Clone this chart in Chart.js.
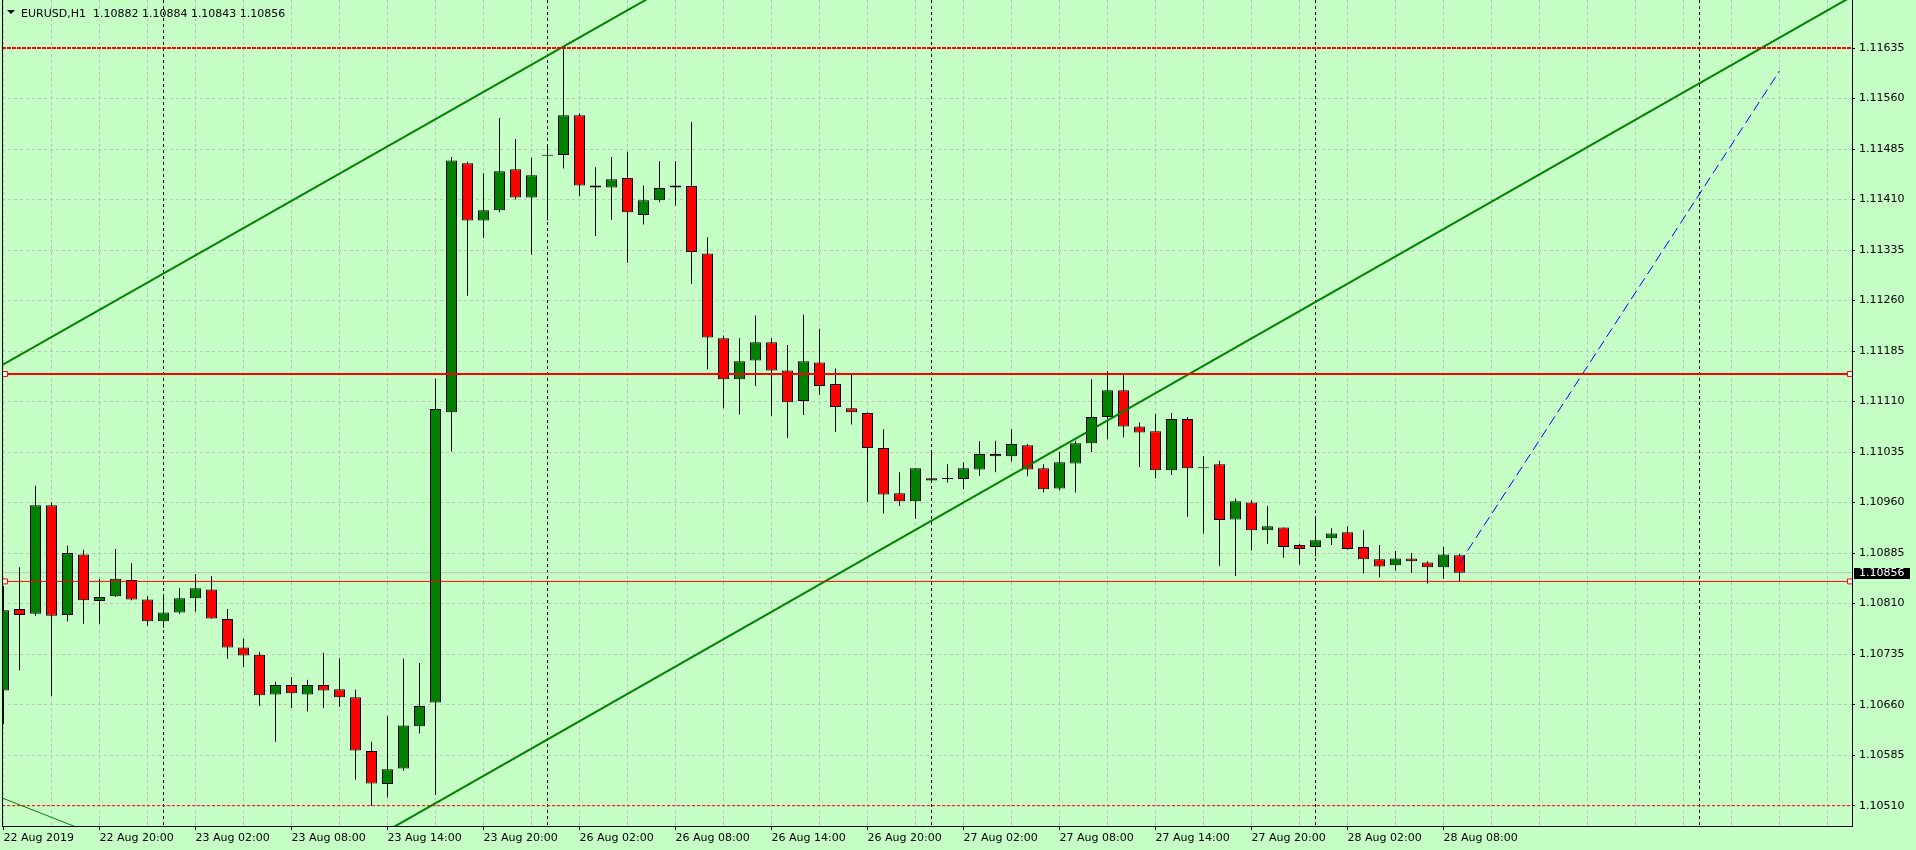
<!DOCTYPE html>
<html lang="en">
<head>
<meta charset="utf-8">
<title>EURUSD,H1</title>
<script src="https://cdn.jsdelivr.net/npm/chart.js@4.4.1/dist/chart.umd.min.js"></script>
<style>
  html, body { margin: 0; padding: 0; background: #c6ffc6; overflow: hidden; }
  .wrap { position: relative; width: 1916px; height: 850px; }
  .head { position: absolute; left: 21px; top: 7px; font: 11px/13px "DejaVu Sans", sans-serif; color: #000; white-space: pre; }
  .head::before { content: ""; position: absolute; left: -14px; top: 3px; border-left: 4px solid transparent; border-right: 4px solid transparent; border-top: 4px solid #000; }
</style>
</head>
<body>
<div class="wrap">
  <canvas id="chart" width="1916" height="850"></canvas>
  <div class="head">EURUSD,H1  1.10882 1.10884 1.10843 1.10856</div>
</div>
<script>
// H1 bars, 22 Aug 2019 14:00 .. 28 Aug 2019 09:00 (bar index = position on the time axis)
const openP = [
  1.10681, 1.10802, 1.10795, 1.10956, 1.10793, 1.10883, 1.10814, 1.10821, 1.10845, 1.10816,
  1.10784, 1.10797, 1.10818, 1.10831, 1.10787, 1.10745, 1.10734, 1.10675, 1.10689, 1.10675,
  1.10689, 1.10683, 1.10671, 1.10591, 1.10542, 1.10565, 1.10628, 1.10663, 1.11094, 1.11464,
  1.11379, 1.11394, 1.11455, 1.11413, 1.11475, 1.11476, 1.11535, 1.11431, 1.11428, 1.11442,
  1.11387, 1.11409, 1.11428, 1.11430, 1.11330, 1.11204, 1.11143, 1.11171, 1.11198, 1.11156,
  1.11111, 1.11168, 1.11136, 1.11100, 1.11093, 1.11041, 1.10974, 1.10962, 1.10996, 1.10995,
  1.10995, 1.11009, 1.11032, 1.11029, 1.11045, 1.11011, 1.10981, 1.11018, 1.11048, 1.11087,
  1.11127, 1.11073, 1.11066, 1.11008, 1.11084, 1.11011, 1.11017, 1.10935, 1.10960, 1.10919,
  1.10923, 1.10897, 1.10894, 1.10907, 1.10916, 1.10894, 1.10876, 1.10867, 1.10877, 1.10871,
  1.10864, 1.10882
];
const highP = [
  1.10836, 1.10864, 1.10985, 1.10960, 1.10896, 1.10890, 1.10847, 1.10891, 1.10870, 1.10821,
  1.10821, 1.10833, 1.10854, 1.10851, 1.10802, 1.10758, 1.10738, 1.10694, 1.10701, 1.10697,
  1.10737, 1.10729, 1.10682, 1.10605, 1.10643, 1.10728, 1.10722, 1.11144, 1.11473, 1.11466,
  1.11449, 1.11531, 1.11500, 1.11472, 1.11490, 1.11634, 1.11538, 1.11458, 1.11473, 1.11481,
  1.11431, 1.11467, 1.11467, 1.11525, 1.11354, 1.11208, 1.11204, 1.11238, 1.11204, 1.11194,
  1.11239, 1.11218, 1.11159, 1.11152, 1.11094, 1.11069, 1.11005, 1.11011, 1.11035, 1.11017,
  1.11020, 1.11051, 1.11052, 1.11069, 1.11047, 1.11017, 1.11035, 1.11052, 1.11143, 1.11155,
  1.11149, 1.11079, 1.11092, 1.11093, 1.11087, 1.11029, 1.11022, 1.10966, 1.10963, 1.10955,
  1.10923, 1.10899, 1.10937, 1.10922, 1.10925, 1.10919, 1.10897, 1.10888, 1.10885, 1.10873,
  1.10894, 1.10884
];
const lowP = [
  1.10631, 1.10711, 1.10792, 1.10673, 1.10784, 1.10780, 1.10780, 1.10820, 1.10815, 1.10777,
  1.10774, 1.10795, 1.10798, 1.10788, 1.10728, 1.10716, 1.10658, 1.10605, 1.10655, 1.10650,
  1.10655, 1.10657, 1.10549, 1.10510, 1.10522, 1.10562, 1.10617, 1.10526, 1.11036, 1.11267,
  1.11353, 1.11391, 1.11410, 1.11328, 1.11379, 1.11456, 1.11415, 1.11356, 1.11380, 1.11316,
  1.11373, 1.11406, 1.11401, 1.11285, 1.11158, 1.11100, 1.11091, 1.11133, 1.11089, 1.11056,
  1.11090, 1.11120, 1.11065, 1.11076, 1.10961, 1.10944, 1.10955, 1.10936, 1.10989, 1.10990,
  1.10980, 1.11000, 1.11005, 1.11021, 1.10999, 1.10975, 1.10978, 1.10975, 1.11035, 1.11054,
  1.11057, 1.11013, 1.10996, 1.11001, 1.10939, 1.10914, 1.10866, 1.10851, 1.10889, 1.10899,
  1.10878, 1.10868, 1.10880, 1.10897, 1.10890, 1.10855, 1.10849, 1.10859, 1.10856, 1.10840,
  1.10847, 1.10843
];
const closeP = [
  1.10800, 1.10793, 1.10956, 1.10792, 1.10885, 1.10815, 1.10820, 1.10847, 1.10816, 1.10784,
  1.10797, 1.10818, 1.10833, 1.10788, 1.10745, 1.10733, 1.10674, 1.10689, 1.10677, 1.10689,
  1.10681, 1.10671, 1.10592, 1.10543, 1.10564, 1.10629, 1.10658, 1.11099, 1.11468, 1.11379,
  1.11394, 1.11452, 1.11413, 1.11446, 1.11475, 1.11535, 1.11431, 1.11428, 1.11440, 1.11391,
  1.11409, 1.11427, 1.11431, 1.11332, 1.11205, 1.11143, 1.11170, 1.11198, 1.11156, 1.11109,
  1.11170, 1.11133, 1.11102, 1.11094, 1.11041, 1.10972, 1.10962, 1.11011, 1.10993, 1.10995,
  1.11011, 1.11032, 1.11029, 1.11047, 1.11009, 1.10980, 1.11020, 1.11048, 1.11087, 1.11127,
  1.11073, 1.11064, 1.11008, 1.11084, 1.11011, 1.11011, 1.10934, 1.10962, 1.10919, 1.10925,
  1.10894, 1.10891, 1.10904, 1.10914, 1.10891, 1.10876, 1.10865, 1.10877, 1.10873, 1.10864,
  1.10883, 1.10856
];

// time axis labels (bar index -> text)
const xLabelBars = [0, 6, 12, 18, 24, 30, 36, 42, 48, 54, 60, 66, 72, 78, 84, 90];
const xLabels = [
  '22 Aug 2019', '22 Aug 20:00', '23 Aug 02:00', '23 Aug 08:00', '23 Aug 14:00', '23 Aug 20:00',
  '26 Aug 02:00', '26 Aug 08:00', '26 Aug 14:00', '26 Aug 20:00', '27 Aug 02:00', '27 Aug 08:00',
  '27 Aug 14:00', '27 Aug 20:00', '28 Aug 02:00', '28 Aug 08:00'
];
// day separators (00:00 bars)
const separatorBars = [10, 34, 58, 82, 106];

// price axis
const yTicks = [1.10510, 1.10585, 1.10660, 1.10735, 1.10810, 1.10885, 1.10960, 1.11035,
                1.11110, 1.11185, 1.11260, 1.11335, 1.11410, 1.11485, 1.11560, 1.11635];

// chart objects
const bidPrice = 1.10856;
const levelTopDot = 1.11635;
const levelMid = 1.11151;
const levelLow = 1.10843;
const levelBottomDash = 1.10510;
const channelUpper = [[-1, 1.11152], [45, 1.11772]];
const channelLower = [[24, 1.10473], [116, 1.11718]];
const smallTrend = [[-1, 1.10530], [5, 1.10474]];
const projection = [[91, 1.10870], [111, 1.11601]];
const anchorBars = [0.1, 115.4];

const xMin = -0.09375, xMax = 115.53125;
const yMin = 1.104798, yMax = 1.117063;

const FONT = { family: 'DejaVu Sans', size: 11 };
const GRID = '#c0c0c0';

const bars = openP.map((o, i) => i);
const bodyColors = openP.map((o, i) => closeP[i] > o ? '#008000' : (closeP[i] < o ? '#ff0000' : '#000000'));

const gridBars = [];
for (let b = 0; b <= 114; b += 3) gridBars.push(b);
const xTickValues = gridBars.concat(separatorBars).sort((a, b) => a - b);

function seg(points, color, width, dash, order) {
  return {
    type: 'line',
    data: points.map(p => ({ x: p[0], y: p[1] })),
    borderColor: color,
    borderWidth: width,
    borderDash: dash || [],
    pointRadius: 0,
    fill: false,
    tension: 0,
    order: order
  };
}

function level(price, color, width, dash, order, anchors) {
  if (!anchors) return seg([[xMin, price], [xMax, price]], color, width, dash, order);
  const ds = seg([[xMin, price], [anchorBars[0], price], [anchorBars[1], price], [xMax, price]], color, width, dash, order);
  ds.pointRadius = [0, 3.5, 3.5, 0];
  ds.pointStyle = 'rect';
  ds.pointBackgroundColor = '#ffffff';
  ds.pointBorderColor = color;
  ds.pointBorderWidth = 1;
  return ds;
}

// left frame line + bid price tag on the price axis
const frame = {
  id: 'frame',
  afterDraw(chart) {
    const ctx = chart.ctx;
    const area = chart.chartArea;
    const y = chart.scales.y;
    ctx.save();
    ctx.strokeStyle = '#000';
    ctx.lineWidth = 1;
    ctx.beginPath();
    ctx.moveTo(area.left + 0.5, area.top);
    ctx.lineTo(area.left + 0.5, area.bottom + 1);
    ctx.stroke();

    const py = y.getPixelForValue(bidPrice);
    ctx.fillStyle = '#000';
    ctx.fillRect(y.left + 2, Math.round(py) - 5, 56, 11);
    ctx.fillStyle = '#fff';
    ctx.font = '11px "DejaVu Sans"';
    ctx.textBaseline = 'middle';
    ctx.fillText(bidPrice.toFixed(5), y.left + 7, py);
    ctx.restore();
  }
};

new Chart(document.getElementById('chart'), {
  type: 'bar',
  data: {
    datasets: [
      level(bidPrice, '#c0c0c0', 1, [], 9),
      {
        label: 'wick',
        data: bars.map(i => ({ x: i, y: [lowP[i], highP[i]] })),
        backgroundColor: '#000000',
        borderWidth: 0,
        barThickness: 1,
        grouped: false,
        inflateAmount: 0,
        order: 6
      },
      {
        label: 'body',
        data: bars.map(i => ({ x: i, y: [openP[i], closeP[i]] })),
        backgroundColor: bodyColors,
        borderColor: '#000000',
        borderWidth: 1,
        borderSkipped: false,
        barThickness: 11,
        minBarLength: 1,
        grouped: false,
        inflateAmount: 0,
        order: 5
      },
      level(levelTopDot, '#ff0000', 2, [4, 1], 1),
      level(levelMid, '#ff0000', 2, [], 1, true),
      level(levelLow, '#ff0000', 1, [], 1, true),
      level(levelBottomDash, '#ff0000', 1, [3, 2], 1),
      seg(channelUpper, '#008000', 2, [], 1),
      seg(channelLower, '#008000', 2, [], 1),
      seg(smallTrend, '#008000', 1, [], 1),
      seg(projection, '#0000ff', 1, [10, 5], 1)
    ]
  },
  options: {
    responsive: false,
    devicePixelRatio: 1,
    animation: false,
    events: [],
    layout: { padding: { left: 2, top: 0, right: 0, bottom: 0 } },
    plugins: { legend: { display: false }, tooltip: { enabled: false } },
    scales: {
      x: {
        type: 'linear',
        min: xMin,
        max: xMax,
        offset: false,
        afterBuildTicks: s => { s.ticks = xTickValues.map(v => ({ value: v })); },
        afterFit: s => { s.height = 24; s.paddingLeft = 0; s.paddingRight = 0; },
        ticks: {
          autoSkip: false,
          maxRotation: 0,
          minRotation: 0,
          align: 'start',
          padding: 2,
          color: '#000',
          font: FONT,
          callback: v => {
            const k = xLabelBars.indexOf(v);
            return k >= 0 ? xLabels[k] : '';
          }
        },
        grid: {
          offset: false,
          color: c => (c.tick && separatorBars.includes(c.tick.value)) ? '#000000' : GRID,
          lineWidth: 1,
          drawTicks: true,
          tickLength: 4,
          tickWidth: 1,
          tickBorderDash: [],
          tickColor: c => (c.tick && xLabelBars.includes(c.tick.value)) ? '#000000' : 'rgba(0,0,0,0)'
        },
        border: { display: true, color: '#000', width: 1, dash: [3, 3] }
      },
      y: {
        type: 'linear',
        position: 'right',
        min: yMin,
        max: yMax,
        beginAtZero: false,
        afterBuildTicks: s => { s.ticks = yTicks.map(v => ({ value: v })); },
        afterFit: s => { s.width = 64; s.paddingTop = 0; s.paddingBottom = 0; },
        ticks: {
          padding: 4,
          color: '#000',
          font: FONT,
          crossAlign: 'near',
          callback: v => Number(v).toFixed(5)
        },
        grid: {
          color: GRID,
          lineWidth: 1,
          drawTicks: true,
          tickLength: 3,
          tickWidth: 1,
          tickBorderDash: [],
          tickColor: '#000'
        },
        border: { display: true, color: '#000', width: 1, dash: [3, 3] }
      }
    }
  },
  plugins: [frame]
});
</script>
</body>
</html>
